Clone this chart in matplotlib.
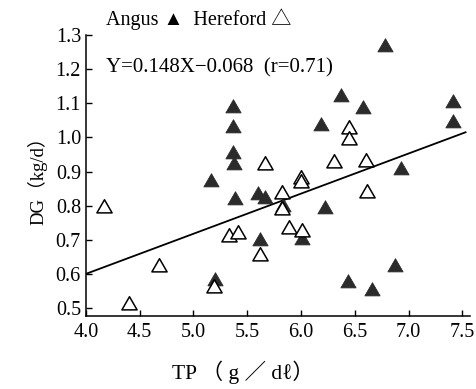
import matplotlib
matplotlib.use("Agg")
import matplotlib.pyplot as plt
from matplotlib.path import Path

# Angus (filled triangles)
angus_tp = [5.37, 5.37, 5.37, 5.38, 5.39, 5.16, 5.20, 5.60, 5.67, 5.62, 5.83, 6.01,
            6.19, 6.22, 6.37, 6.58, 6.78, 7.41, 7.41, 6.93, 6.87, 6.44, 6.66]
angus_dg = [1.087, 1.028, 0.952, 0.918, 0.816, 0.869, 0.58, 0.83, 0.818, 0.697, 0.796, 0.70,
            1.032, 0.789, 1.118, 1.084, 1.264, 1.10, 1.042, 0.905, 0.62, 0.572, 0.55]

# Hereford (open triangles)
hereford_tp = [4.17, 4.40, 4.68, 5.19, 5.33, 5.41, 5.62, 5.67, 5.82, 5.82, 5.89, 6.00,
               6.00, 6.01, 6.31, 6.45, 6.45, 6.60, 6.61]
hereford_dg = [0.794, 0.509, 0.62, 0.56, 0.707, 0.716, 0.652, 0.92, 0.833, 0.787, 0.733, 0.879,
               0.866, 0.723, 0.925, 1.025, 0.991, 0.928, 0.837]

# regression line as drawn
line_x = [4.0, 7.53]
line_y = [0.60, 1.015]

x_ticks = [4.0, 4.5, 5.0, 5.5, 6.0, 6.5, 7.0, 7.5]
y_ticks = [0.5, 0.6, 0.7, 0.8, 0.9, 1.0, 1.1, 1.2, 1.3]

serif = ['Liberation Serif', 'DejaVu Serif', 'Noto Sans CJK JP']
plt.rcParams['font.family'] = serif

tri = Path([(-1.0, -0.577), (1.0, -0.577), (0.0, 1.155), (-1.0, -0.577)],
           [Path.MOVETO, Path.LINETO, Path.LINETO, Path.CLOSEPOLY])

fig = plt.figure(figsize=(4.77, 3.89), dpi=100)
ax = fig.add_axes([0.180, 0.188, 0.805, 0.722])

ax.plot(line_x, line_y, color='black', lw=1.3, zorder=2)
ax.scatter(angus_tp, angus_dg, marker=tri, s=160, color='#2b2b2b', edgecolor='#2b2b2b',
           linewidth=0.6, zorder=3)
ax.scatter(hereford_tp, hereford_dg, marker=tri, s=160, facecolor='white', edgecolor='black',
           linewidth=1.1, zorder=3)

ax.set_xlim(4.0, 7.57)
ax.set_ylim(0.477, 1.30)
ax.set_xticks(x_ticks)
ax.set_yticks(y_ticks)
ax.set_xticklabels([f"{v:.1f}" for v in x_ticks])
ax.set_yticklabels([f"{v:.1f}" for v in y_ticks])
ax.tick_params(direction='in', length=4, width=1, labelsize=14.5)
ax.tick_params(axis='x', pad=5)
ax.tick_params(axis='y', pad=3.5)
for s in ['top', 'right']:
    ax.spines[s].set_visible(False)
for s in ['left', 'bottom']:
    ax.spines[s].set_linewidth(1.1)

fig.text(37 / 477, 1 - 176 / 389, "DG（kg/d）", rotation=90, ha='center', va='center',
         fontsize=13.5, family=serif)
fig.text(243 / 477, 1 - 372 / 389, "TP （ g ／ dℓ）", ha='center', va='center', fontsize=15.5,
         family=serif)

fig.text(106 / 477, 1 - 19 / 389, "Angus ▲  Hereford △", ha='left', va='center', fontsize=14.5,
         family=['Liberation Serif', 'Noto Sans CJK JP'])
fig.text(106 / 477, 1 - 68 / 389, "Y=0.148X−0.068  (r=0.71)", ha='left', va='center',
         fontsize=15, family=serif)

fig.savefig("out.png", dpi=100)
